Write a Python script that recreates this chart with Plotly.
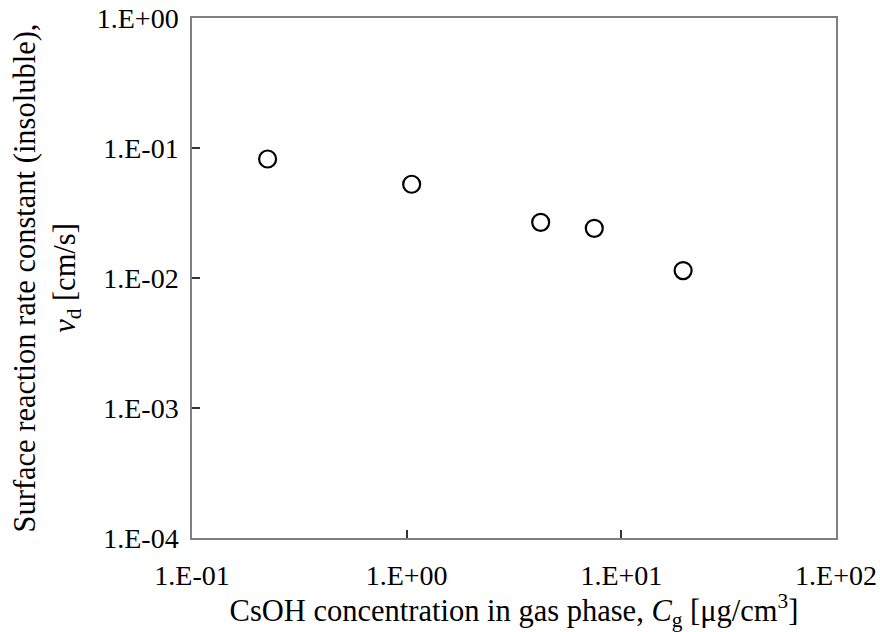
import plotly.graph_objects as go

cg = [0.225, 1.055, 4.21, 7.48, 19.4]
vd = [0.0823, 0.0526, 0.0268, 0.0241, 0.0114]

x_tickvals = [0.1, 1, 10, 100]
x_ticktext = ["1.E-01", "1.E+00", "1.E+01", "1.E+02"]
y_tickvals = [1e-4, 1e-3, 1e-2, 1e-1, 1]
y_ticktext = ["1.E-04", "1.E-03", "1.E-02", "1.E-01", "1.E+00"]

font = "Liberation Serif, Times New Roman, serif"

fig = go.Figure(go.Scatter(
    x=cg, y=vd, mode="markers",
    marker=dict(symbol="circle-open", size=17, color="black", line=dict(width=2.2, color="black")),
))

axis_common = dict(
    showline=True, linecolor="#7f7f7f", linewidth=1.5, mirror=True,
    ticks="inside", ticklen=8, tickcolor="#333333", tickwidth=1.5,
    showgrid=False, zeroline=False, ticklabeloverflow="allow", automargin=False,
    tickfont=dict(family=font, size=28, color="black"),
)

fig.update_xaxes(type="log", range=[-1, 2], tickvals=x_tickvals, ticktext=x_ticktext,
                 ticklabelstandoff=12,
                 title=dict(text="CsOH concentration in gas phase, <i>C</i><sub>g</sub> [μg/cm<sup>3</sup>]",
                            font=dict(family=font, size=30.5, color="black"), standoff=0),
                 **axis_common)
fig.update_yaxes(type="log", range=[-4, 0], tickvals=y_tickvals, ticktext=y_ticktext,
                 ticklabelstandoff=6,
                 title=dict(text="Surface reaction rate constant (insoluble),<br><i>v</i><sub>d</sub> [cm/s]",
                            font=dict(family=font, size=30.5, color="black"), standoff=12),
                 **axis_common)

fig.update_layout(
    width=880, height=632,
    margin=dict(l=192, r=44, t=18, b=94),
    plot_bgcolor="white", paper_bgcolor="white",
    showlegend=False,
)

fig.write_html("out.html", config={"displayModeBar": False},
               post_script="document.body.style.margin='0';")
